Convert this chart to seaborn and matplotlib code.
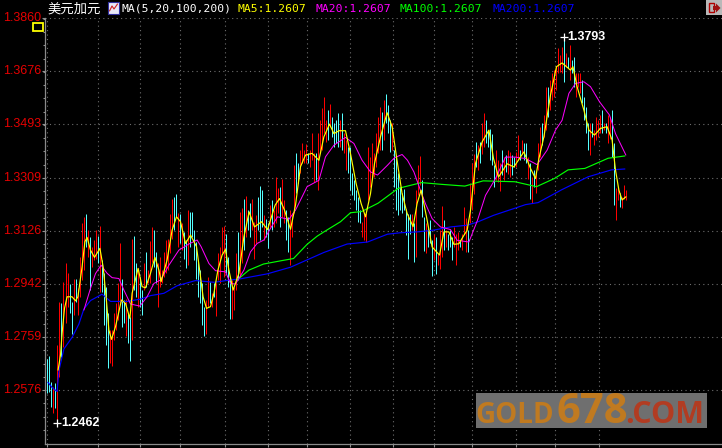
import matplotlib
matplotlib.use("Agg")
import matplotlib.pyplot as plt
import seaborn as sns
from matplotlib.patches import Rectangle
from matplotlib.ticker import FixedLocator

price_ticks = [1.2576, 1.2759, 1.2942, 1.3126, 1.3309, 1.3493, 1.3676, 1.3860]
time_ticks = [0, 25, 46, 66, 88.5, 110, 129.5, 151, 172.5, 193, 212, 234, 253.5, 275.5]

bar_high = [
1.2685,1.2693,1.2605,1.2588,1.2599,1.2731,1.2881,1.2875,1.2950,1.3013,
1.2979,1.2942,1.2881,1.2959,1.2961,1.2927,1.3034,1.3153,1.3172,1.3185,
1.3128,1.3105,1.3070,1.3093,1.3128,1.3107,1.3142,1.3025,1.2979,1.2933,
1.2841,1.2783,1.2783,1.2841,1.2875,1.2944,1.3082,1.2961,1.2887,1.2892,
1.2841,1.2829,1.3099,1.3107,1.3013,1.2996,1.2967,1.2921,1.3013,1.3051,
1.2990,1.3090,1.3140,1.3130,1.3053,1.3013,1.3036,1.2990,1.3053,1.3093,
1.3099,1.3185,1.3237,1.3241,1.3252,1.3187,1.3185,1.3151,1.3122,1.3093,
1.3199,1.3191,1.3191,1.3128,1.3088,1.3025,1.2990,1.2944,1.2864,1.2887,
1.2967,1.2950,1.2910,1.2946,1.2944,1.3048,1.3071,1.3139,1.3142,1.3114,
1.3036,1.2967,1.2956,1.2933,1.3048,1.3122,1.3191,1.3206,1.3235,1.3246,
1.3197,1.3220,1.3237,1.3157,1.3180,1.3243,1.3280,1.3266,1.3180,1.3168,
1.3151,1.3214,1.3232,1.3197,1.3310,1.3272,1.3278,1.3304,1.3232,1.3197,
1.3174,1.3197,1.3186,1.3352,1.3395,1.3358,1.3404,1.3429,1.3404,1.3425,
1.3393,1.3404,1.3462,1.3393,1.3393,1.3462,1.3508,1.3548,1.3586,1.3508,
1.3542,1.3563,1.3519,1.3496,1.3508,1.3533,1.3508,1.3533,1.3462,1.3439,
1.3415,1.3415,1.3324,1.3301,1.3266,1.3243,1.3197,1.3157,1.3186,1.3186,
1.3415,1.3381,1.3427,1.3393,1.3462,1.3519,1.3554,1.3536,1.3577,1.3597,
1.3559,1.3508,1.3496,1.3404,1.3381,1.3324,1.3278,1.3255,1.3271,1.3202,
1.3185,1.3185,1.3185,1.3151,1.3265,1.3352,1.3383,1.3300,1.3174,1.3151,
1.3139,1.3162,1.3093,1.3116,1.3105,1.3047,1.3127,1.3210,1.3162,1.3127,
1.3116,1.3127,1.3105,1.3139,1.3116,1.3122,1.3093,1.3116,1.3208,1.3171,
1.3127,1.3291,1.3358,1.3392,1.3432,1.3421,1.3432,1.3496,1.3532,1.3509,
1.3473,1.3478,1.3461,1.3352,1.3404,1.3369,1.3358,1.3404,1.3381,1.3386,
1.3404,1.3398,1.3386,1.3381,1.3398,1.3455,1.3404,1.3438,1.3427,1.3427,
1.3381,1.3358,1.3312,1.3335,1.3324,1.3427,1.3484,1.3496,1.3525,1.3623,
1.3623,1.3646,1.3669,1.3680,1.3692,1.3755,1.3732,1.3761,1.3793,1.3738,
1.3726,1.3766,1.3715,1.3726,1.3669,1.3669,1.3669,1.3646,1.3588,1.3554,
1.3496,1.3496,1.3496,1.3473,1.3519,1.3507,1.3525,1.3542,1.3496,1.3496,
1.3525,1.3519,1.3542,1.3427,1.3272,1.3277,1.3255,1.3243,1.3283,1.3268]

bar_low = [
1.2565,1.2570,1.2519,1.2498,1.2513,1.2462,1.2622,1.2691,1.2726,1.2806,
1.2864,1.2841,1.2769,1.2835,1.2881,1.2835,1.2898,1.2956,1.2990,1.3070,
1.3036,1.2921,1.3002,1.3025,1.3030,1.3013,1.2915,1.2915,1.2800,1.2731,
1.2653,1.2668,1.2660,1.2749,1.2783,1.2818,1.2875,1.2795,1.2806,1.2762,
1.2739,1.2676,1.2749,1.2921,1.2898,1.2864,1.2864,1.2835,1.2921,1.2933,
1.2944,1.2944,1.3019,1.3000,1.2944,1.2864,1.2933,1.2944,1.2967,1.2979,
1.2990,1.3048,1.3099,1.3128,1.3172,1.3070,1.3082,1.3059,1.3030,1.2996,
1.3007,1.3070,1.3105,1.3025,1.2961,1.2898,1.2875,1.2800,1.2763,1.2771,
1.2864,1.2875,1.2864,1.2898,1.2832,1.2956,1.2944,1.3048,1.2967,1.2979,
1.2933,1.2823,1.2821,1.2852,1.2921,1.2956,1.2967,1.3013,1.3059,1.3105,
1.3128,1.3105,1.3128,1.3030,1.3082,1.3128,1.3094,1.3139,1.3094,1.3105,
1.3068,1.3139,1.3128,1.3139,1.3151,1.3186,1.3139,1.3174,1.3151,1.3094,
1.3053,1.3007,1.3105,1.3186,1.3255,1.3289,1.3324,1.3358,1.3358,1.3358,
1.3358,1.3347,1.3370,1.3295,1.3301,1.3266,1.3393,1.3404,1.3462,1.3433,
1.3439,1.3485,1.3450,1.3415,1.3427,1.3415,1.3415,1.3404,1.3393,1.3335,
1.3324,1.3266,1.3249,1.3232,1.3197,1.3157,1.3151,1.3105,1.3094,1.3088,
1.3232,1.3278,1.3312,1.3312,1.3347,1.3393,1.3404,1.3404,1.3439,1.3496,
1.3462,1.3398,1.3404,1.3278,1.3197,1.3180,1.3197,1.3186,1.3197,1.3110,
1.3030,1.3116,1.3127,1.3018,1.3036,1.3248,1.3283,1.3174,1.3055,1.3049,
1.3070,1.3082,1.2969,1.3024,1.2978,1.3007,1.2995,1.3036,1.3059,1.3070,
1.3059,1.3070,1.3024,1.3070,1.3007,1.3059,1.3070,1.3059,1.3116,1.3053,
1.3053,1.3151,1.3197,1.3254,1.3346,1.3335,1.3358,1.3392,1.3415,1.3427,
1.3415,1.3369,1.3352,1.3277,1.3300,1.3294,1.3263,1.3317,1.3300,1.3329,
1.3323,1.3312,1.3317,1.3346,1.3346,1.3369,1.3369,1.3392,1.3369,1.3358,
1.3306,1.3237,1.3220,1.3277,1.3255,1.3335,1.3381,1.3421,1.3450,1.3473,
1.3519,1.3542,1.3577,1.3588,1.3611,1.3669,1.3674,1.3669,1.3640,1.3692,
1.3686,1.3646,1.3669,1.3623,1.3588,1.3623,1.3600,1.3565,1.3507,1.3462,
1.3404,1.3387,1.3450,1.3421,1.3438,1.3450,1.3462,1.3462,1.3473,1.3462,
1.3427,1.3444,1.3381,1.3214,1.3163,1.3232,1.3209,1.3203,1.3237,1.3232]

bar_kind = ("CCCRCRRCRR" "RCCRCRRRRC" "RCRRRCRCCC" "CRRRRRRCCR" "CCRCCRCCRC"
            "RRRCCRRRRR" "RRRCCRCRCC" "RCCCCCCCCR" "RCRCRRRRRC" "CCRRRCRRCR"
            "CCRRRCCCRC" "CRCRRRCRRC" "CRRRCCRRRR" "CRRRCRRRRR" "CRCCCCRCRR"
            "CCCCCCCRRR" "RRRRRRRCRC" "CCRCCCCCCC" "CCRCRRRCCR" "CCCRCRRRCR"
            "CCCRRRCRRR" "CRRRCRCRRC" "CCCCRRRCRC" "RRCCRRCRCC" "RCRCRRRCRR"
            "CRRRRRRRCR" "CRCCRRRCCC" "CRCRRRRCRC" "RRCCRRCRRR")

ma5_x = [5.3,6.5,7.3,8.5,9.8,12.3,14,15.2,17.3,18.7,19.8,21.5,23.5,26.2,27.8,29.3,30.7,32,34,37,39,41.2,42.3,
         45.3,47.3,49,51.5,53.7,55.7,56.8,59.8,62.3,64.5,66.5,69,71.5,74.5,76.5,77.8,79.5,81.5,83.2,85.2,87.3,
         89,90.7,92.8,95.7,98.2,100.8,103.5,107,110,113.8,116,118.5,121.5,124,126.5,129,132.3,135.7,138.2,141,
         143.2,145.7,149,151.5,154.3,156.8,159,161.5,163.5,166.5,169.8,172.3,174.5,177.3,179.8,182.8,184.8,
         186.8,189.5,192.3,196,198.2,200.7,203.2,205.7,208.2,209.8,211.5,214,217.3,220.7,223,225.5,229.8,233.2,
         238.2,241.5,244,245.7,248.2,251.5,254.5,257.3,261.5,262.7,264.8,268.2,270.7,273.5,276.5,279.8,282.3,
         284,285.7,287.3,289.2]
ma5_y = [1.2645,1.2697,1.2772,1.2858,1.2898,1.2898,1.2884,1.2898,1.3002,1.3088,1.3103,1.3059,1.3034,1.3065,1.3002,
         1.2898,1.2783,1.2751,1.2795,1.2887,1.2875,1.2823,1.2910,1.2996,1.2933,1.2929,1.2979,1.3034,1.2990,1.2950,
         1.3025,1.3128,1.3174,1.3157,1.3082,1.3111,1.3071,1.2967,1.2898,1.2858,1.2864,1.2910,1.2990,1.3042,1.3061,
         1.2990,1.2921,1.2979,1.3105,1.3191,1.3139,1.3157,1.3130,1.3214,1.3237,1.3197,1.3131,1.3214,1.3347,1.3387,
         1.3393,1.3369,1.3450,1.3494,1.3461,1.3471,1.3471,1.3392,1.3289,1.3220,1.3174,1.3254,1.3358,1.3450,1.3533,
         1.3485,1.3381,1.3254,1.3186,1.3140,1.3220,1.3266,1.3174,1.3070,1.3042,1.3122,1.3122,1.3079,1.3081,1.3110,
         1.3127,1.3197,1.3358,1.3432,1.3473,1.3375,1.3311,1.3357,1.3346,1.3398,1.3341,1.3306,1.3375,1.3450,1.3594,
         1.3692,1.3705,1.3680,1.3692,1.3623,1.3542,1.3473,1.3456,1.3479,1.3485,1.3439,1.3335,1.3266,1.3232,1.3243]

ma20_x = [18.2,21.5,24,26.8,29.8,32.3,35.7,38.2,41.5,46.2,49.8,53.2,56.5,60.7,65.7,70.7,74.8,76.8,80.7,84,89,91.5,94,
          98.2,101.5,104.8,108.2,111.5,115,120.7,124,129.8,135.7,139,143.2,149,153.2,157.3,161.5,165,170,173.5,177.3,
          180,183.2,186.5,189,192.3,196.5,201.5,204.8,210.7,215,219,224,229,234,239,244.8,249.8,254,257.3,260.7,264,
          268.2,271.5,276,281,284,289.2]
ma20_y = [1.2852,1.2927,1.2978,1.3007,1.2979,1.2964,1.2961,1.2921,1.2873,1.2866,1.2898,1.2944,1.2956,1.3007,1.3059,
          1.3080,1.3094,1.3071,1.3013,1.2988,1.2984,1.2944,1.2942,1.2990,1.3053,1.3082,1.3094,1.3134,1.3174,1.3165,
          1.3197,1.3278,1.3300,1.3381,1.3421,1.3448,1.3427,1.3369,1.3329,1.3318,1.3352,1.3378,1.3389,1.3369,1.3329,
          1.3265,1.3219,1.3168,1.3139,1.3130,1.3093,1.3087,1.3162,1.3248,1.3306,1.3380,1.3380,1.3375,1.3354,1.3404,
          1.3473,1.3507,1.3600,1.3634,1.3640,1.3623,1.3571,1.3525,1.3461,1.3387]

ma100_x = [94.8,100.7,108,116.5,123,129.8,134.8,138.2,146.5,151.5,157,165.3,175.3,187,197,208.7,217.8,233.7,244.5,
           253.7,260.3,268.7,280.3,288.7]
ma100_y = [1.2956,1.2990,1.3011,1.3022,1.3030,1.3079,1.3107,1.3122,1.3157,1.3188,1.3192,1.3221,1.3272,1.3292,1.3286,
           1.3280,1.3298,1.3295,1.3278,1.3307,1.3336,1.3341,1.3376,1.3384]

ma200_x = [0.2,2.3,4.8,5.7,8.2,12.3,15.7,18.2,21.5,27.3,31.5,39.8,46.5,51.5,58.2,64.8,74,83.2,91.5,96.5,109.8,121.5,
           138.2,149.8,160,170,176.5,185,193,201.5,209.8,215,223,233,239,245.3,257,270.3,282,288.7]
ma200_y = [1.2603,1.2585,1.2571,1.2643,1.2718,1.2758,1.2804,1.2856,1.2885,1.2907,1.2882,1.2882,1.2890,1.2902,1.2910,
           1.2936,1.2954,1.2948,1.2956,1.2960,1.2977,1.3000,1.3051,1.3080,1.3087,1.3114,1.3119,1.3122,1.3128,1.3139,
           1.3145,1.3156,1.3179,1.3202,1.3216,1.3223,1.3267,1.3312,1.3336,1.3339]

title_name = "美元加元"
title_ma = "MA(5,20,100,200)"
legend_items = ["MA5:1.2607", "MA20:1.2607", "MA100:1.2607", "MA200:1.2607"]
legend_colors = ["#ffff00", "#ff00ff", "#00ff00", "#0000ff"]
high_label, low_label = 1.3793, 1.2462

W, H = 722, 448
sns.set_theme(style="dark", rc={"axes.facecolor": "black", "figure.facecolor": "black"})
plt.rcParams["font.family"] = ["Liberation Sans", "Noto Sans CJK SC", "DejaVu Sans"]

fig = plt.figure(figsize=(W / 100, H / 100), dpi=100, facecolor="black")
ax = fig.add_axes([45.5 / W, 1 - 444 / H, 1 - 45.5 / W, (444 - 18) / H])
ax.set_facecolor("black")
# one bar every 2 screen pixels, centred on a pixel column
ax.set_xlim(-1, 337.25)
ax.set_ylim(1.2390, 1.3860)

n = min(len(bar_high), len(bar_low), len(bar_kind))
xs = list(range(n))
for kind, col in (("C", "#55ffff"), ("R", "#ff0000")):
    pick = [i for i in xs if bar_kind[i] == kind]
    ax.vlines(pick, [bar_low[i] for i in pick], [bar_high[i] for i in pick], colors=col, lw=0.72, zorder=3)

for lx, ly, col, w, z in ((ma200_x, ma200_y, "#0000ff", 0.85, 4), (ma100_x, ma100_y, "#00ff00", 0.85, 5),
                          (ma20_x, ma20_y, "#ff00ff", 0.72, 6), (ma5_x, ma5_y, "#ffff00", 0.85, 7)):
    sns.lineplot(x=lx, y=ly, ax=ax, color=col, lw=w, sort=False, errorbar=None, estimator=None, zorder=z)

ax.set_yticks(price_ticks)
ax.set_yticklabels([f"{p:.4f}" for p in price_ticks], color="#e60000", fontsize=9.0)
ax.set_xticks(time_ticks)
ax.set_xticklabels([])
minor = [price_ticks[0] + (price_ticks[1] - price_ticks[0]) * k / 4 for k in range(-4, 33)]
ax.yaxis.set_minor_locator(FixedLocator([m for m in minor if 1.2400 < m < 1.3860]))
ax.tick_params(axis="y", which="major", length=2.5, width=0.8, color="#909090", pad=0.5, left=True)
ax.tick_params(axis="y", which="minor", length=1.5, width=0.8, color="#909090", left=True)
ax.tick_params(axis="x", which="major", length=2, width=0.8, color="#909090", bottom=True)
ax.grid(True, which="major", color="#6e6e6e", lw=0.8, ls=(0, (1, 3)), zorder=1)
ax.set_axisbelow(True)
for side, sp in ax.spines.items():
    sp.set_visible(side in ("left", "bottom"))
    sp.set_color("#8a8a8a")
    sp.set_linewidth(0.9)
for t in ax.get_yticklabels():
    t.set_verticalalignment("center")

# high/low marks
ax.plot([258, 5], [high_label, low_label], ls="", marker="+", ms=6, mew=0.9, color="white", zorder=9)
ax.annotate(f"{high_label:.4f}", (258, high_label), xytext=(4, 0), textcoords="offset pixels", color="white",
            fontsize=9, fontweight="bold", va="center", zorder=9)
ax.annotate(f"{low_label:.4f}", (5, low_label), xytext=(4, 0), textcoords="offset pixels", color="white",
            fontsize=9, fontweight="bold", va="center", zorder=9)


def px(x, y):
    return x / W, 1 - y / H


# header row
fig.text(*px(47.5, 8.5), title_name, color="white", fontsize=9.6, va="center", family=["Noto Sans CJK SC", "DejaVu Sans"])
fig.add_artist(Rectangle(px(108, 14), 11 / W, 12 / H, transform=fig.transFigure, fc="#e8e8f8", ec="#3030a0", lw=0.8))
fig.add_artist(plt.Line2D([109.5 / W, 112 / W, 114 / W, 117.5 / W], [1 - 11 / H, 1 - 6 / H, 1 - 9 / H, 1 - 4 / H],
                          color="#d02020", lw=0.8))
fig.text(*px(122, 8.5), title_ma, color="white", fontsize=8.2, va="center", family="DejaVu Sans Mono")
for lab, col, x0 in zip(legend_items, legend_colors, (238, 316, 400, 492)):
    fig.text(*px(x0, 8.5), lab, color=col, fontsize=8.2, va="center", family="DejaVu Sans Mono")

# small yellow box and exit icon
fig.add_artist(Rectangle(px(32.5, 31), 10.5 / W, 8 / H, transform=fig.transFigure, fc="none", ec="#ffff00", lw=1.3))
fig.add_artist(Rectangle(px(706, 15), 16 / W, 15 / H, transform=fig.transFigure, fc="#b8b8b8", ec="none"))
fig.add_artist(Rectangle(px(709, 12), 5 / W, 9 / H, transform=fig.transFigure, fc="#b8b8b8", ec="#b00000", lw=1))
fig.add_artist(plt.Polygon([px(713, 6), px(716, 6), px(716, 3.5), px(720.5, 8), px(716, 12.5), px(716, 10), px(713, 10)],
                           closed=True, transform=fig.transFigure, fc="#a01010", ec="none"))

# watermark
fig.add_artist(Rectangle(px(476, 428), 231 / W, 35 / H, transform=fig.transFigure, fc="#6f6f6f", ec="none", zorder=10))
wm = dict(va="baseline", fontweight="bold", family="Open Sans", zorder=11)
fig.text(*px(475, 423), "GOLD", color="#c07a20", fontsize=20, **wm)
fig.text(*px(556, 423), "678", color="#c07a20", fontsize=30, **wm)
fig.text(*px(625, 423), ".COM", color="#b23c22", fontsize=22, **wm)

fig.savefig("out.png", dpi=100, facecolor="black")
